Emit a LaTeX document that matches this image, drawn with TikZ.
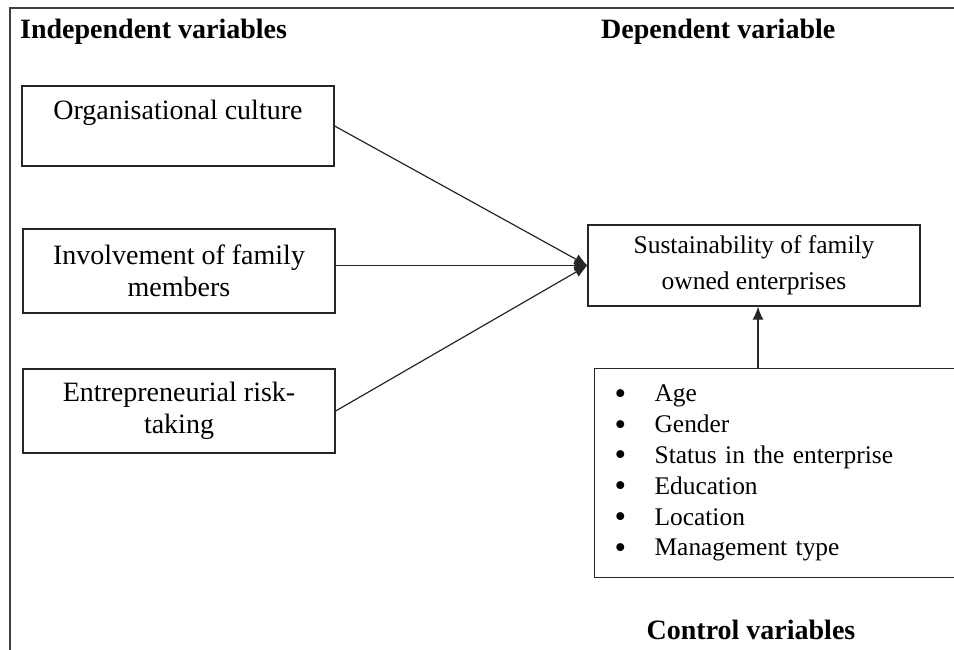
\documentclass[tikz,border=0pt]{standalone}
\usepackage{fontspec}
\setmainfont{Liberation Serif}
\usetikzlibrary{arrows.meta}
\newcommand{\blt}{\makebox[40pt][l]{\raisebox{-2.5pt}{\fontsize{33}{33}\selectfont\textbullet}}}
\tikzset{
  varbox/.style={draw=black!85, line width=1.3pt, rectangle, align=center, inner sep=0pt,
    font=\fontsize{28}{32}\selectfont},
  title/.style={font=\fontsize{28}{32}\selectfont\bfseries, inner sep=0pt, anchor=base west},
  conn/.style={draw=black!85, line width=1.2pt, -{Latex[length=13pt,width=11pt]}},
  frameline/.style={draw=black!75, line width=2pt}
}
\begin{document}
\begin{tikzpicture}[x=1pt,y=-1pt]
\useasboundingbox (0,0) rectangle (954,649);
\draw[frameline] (10,660) -- (10,8) -- (965,8);

\node[title] (tind) at (20,38) {Independent variables};
\node[title] (tdep) at (601,38) {Dependent variable};

\node[varbox, minimum width=312pt, minimum height=80pt] (b1) at (178,126) {Organisational culture\\\mbox{}};
\node[varbox, minimum width=312pt, minimum height=84pt] (b2) at (179,271) {Involvement of family\\members};
\node[varbox, minimum width=312pt, minimum height=84pt] (b3) at (179,411) {Entrepreneurial risk-\\taking};

\node[varbox, minimum width=332pt, minimum height=81pt, font=\fontsize{25.5}{36}\selectfont] (dep) at (754,265.5) {Sustainability of family\\owned enterprises};

\node[varbox, anchor=north west, align=left, text width=346pt, inner xsep=20pt, inner ysep=0pt,
  minimum height=209pt, font=\fontsize{25.4}{30.8}\selectfont] (ctrl) at (594,368)
  {\blt Age\\
   \blt Gender\\
   \blt Status in the enterprise\\
   \blt Education\\
   \blt Location\\
   \blt Management type};

\node[title, anchor=base] (tctrl) at (751,639) {Control variables};

\draw[conn] (b1.east) -- (dep.west);
\draw[conn] (b2.east |- dep.west) -- (dep.west);
\draw[conn] (b3.east) -- (dep.west);
\coordinate (ctop) at (758,368);
\draw[conn, -{Latex[length=13pt,width=11pt]}] (ctop) -- (ctop |- dep.south);
\end{tikzpicture}
\end{document}
